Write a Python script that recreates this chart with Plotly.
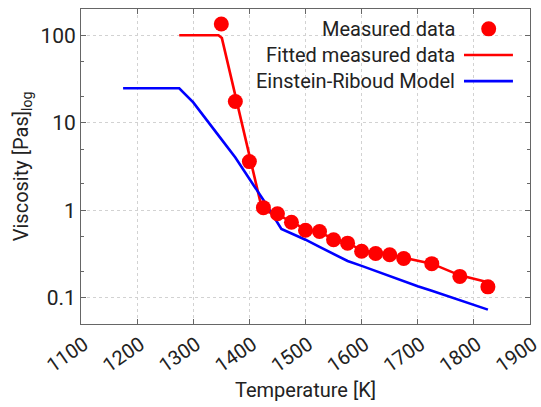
import plotly.graph_objects as go

# Measured data
meas_T = [1350, 1375, 1400, 1425, 1450, 1475, 1500, 1525, 1550, 1575, 1600, 1625, 1650, 1675, 1725, 1775, 1825]
meas_v = [135, 17.5, 3.6, 1.07, 0.91, 0.73, 0.59, 0.57, 0.46, 0.42, 0.34, 0.32, 0.31, 0.28, 0.245, 0.175, 0.133]

# Fitted measured data
fit_T = [1275, 1345, 1351, 1423, 1450, 1475, 1500, 1525, 1550, 1575, 1600, 1625, 1650, 1675, 1725, 1775, 1825]
fit_v = [100, 100, 93, 1.0, 0.89, 0.74, 0.6, 0.56, 0.47, 0.42, 0.35, 0.32, 0.31, 0.285, 0.245, 0.18, 0.15]

# Einstein-Riboud model
er_T = [1175, 1275, 1300, 1325, 1350, 1375, 1400, 1425, 1457, 1500, 1525, 1550, 1575, 1600, 1625, 1650, 1675, 1700, 1725, 1750, 1775, 1800, 1825]
er_v = [24.8, 24.8, 17.1, 10.7, 6.5, 4.0, 2.29, 1.31, 0.61, 0.46, 0.38, 0.316, 0.263, 0.231, 0.201, 0.176, 0.153, 0.135, 0.12, 0.106, 0.093, 0.083, 0.073]

x_ticks = [1100, 1200, 1300, 1400, 1500, 1600, 1700, 1800, 1900]
y_ticks = [0.1, 1, 10, 100]
y_ticktext = ["0.1", "1", "10", "100"]

legend_names = ["Measured data", "Fitted measured data", "Einstein-Riboud Model"]

FONT = "Roboto"
TXT = "#222222"
fig = go.Figure()
fig.add_trace(go.Scatter(x=fit_T, y=fit_v, mode="lines", line=dict(color="#ff0000", width=2.6), showlegend=False))
fig.add_trace(go.Scatter(x=er_T, y=er_v, mode="lines", line=dict(color="#0000ff", width=2.6), showlegend=False))
fig.add_trace(go.Scatter(x=meas_T, y=meas_v, mode="markers", marker=dict(color="#ff0000", size=15), showlegend=False))

axis_common = dict(
    showline=True, linecolor="#666666", linewidth=1, mirror="allticks",
    ticks="inside", ticklen=5, tickcolor="#666666", automargin=False,
    showgrid=True, gridcolor="#d2d2d2", griddash="dot", gridwidth=1,
    zeroline=False,
)
fig.update_xaxes(range=[1100, 1900], tickvals=x_ticks, tickangle=-35, ticklabelshift=3,
                 ticklabeloverflow="allow", tickfont=dict(family=FONT, size=20, color=TXT),
                 title=dict(text="Temperature [K]", font=dict(family=FONT, size=20, color=TXT), standoff=6),
                 **axis_common)
fig.update_yaxes(type="log", range=[-1.301, 2.301], tickvals=y_ticks, ticktext=y_ticktext,
                 tickfont=dict(family=FONT, size=21, color=TXT),
                 minor=dict(ticks="inside", ticklen=3, tickcolor="#666666", dtick="D2", showgrid=False),
                 title=dict(text="Viscosity [Pas]<sub>log</sub>", font=dict(family=FONT, size=20, color=TXT), standoff=6),
                 **axis_common)

# manual legend (text right, symbol on the right)
ly = [0.937, 0.854, 0.771]
for name, yy in zip(legend_names, ly):
    fig.add_annotation(x=0.838, y=yy, xref="paper", yref="paper", text=name, showarrow=False,
                       xanchor="right", yanchor="middle", font=dict(family=FONT, size=20, color=TXT))
fig.add_shape(type="circle", xref="paper", yref="paper", xsizemode="pixel", ysizemode="pixel",
              xanchor=0.908, yanchor=ly[0], x0=-7.5, x1=7.5, y0=-7.5, y1=7.5,
              fillcolor="#ff0000", line=dict(width=0))
fig.add_shape(type="line", xref="paper", yref="paper", x0=0.853, x1=0.962, y0=ly[1], y1=ly[1],
              line=dict(color="#ff0000", width=2.6))
fig.add_shape(type="line", xref="paper", yref="paper", x0=0.853, x1=0.962, y0=ly[2], y1=ly[2],
              line=dict(color="#0000ff", width=2.6))

fig.update_layout(width=541, height=407, margin=dict(l=81, r=11, t=9, b=83),
                  plot_bgcolor="white", paper_bgcolor="white", showlegend=False)
fig.write_html("out.html")
